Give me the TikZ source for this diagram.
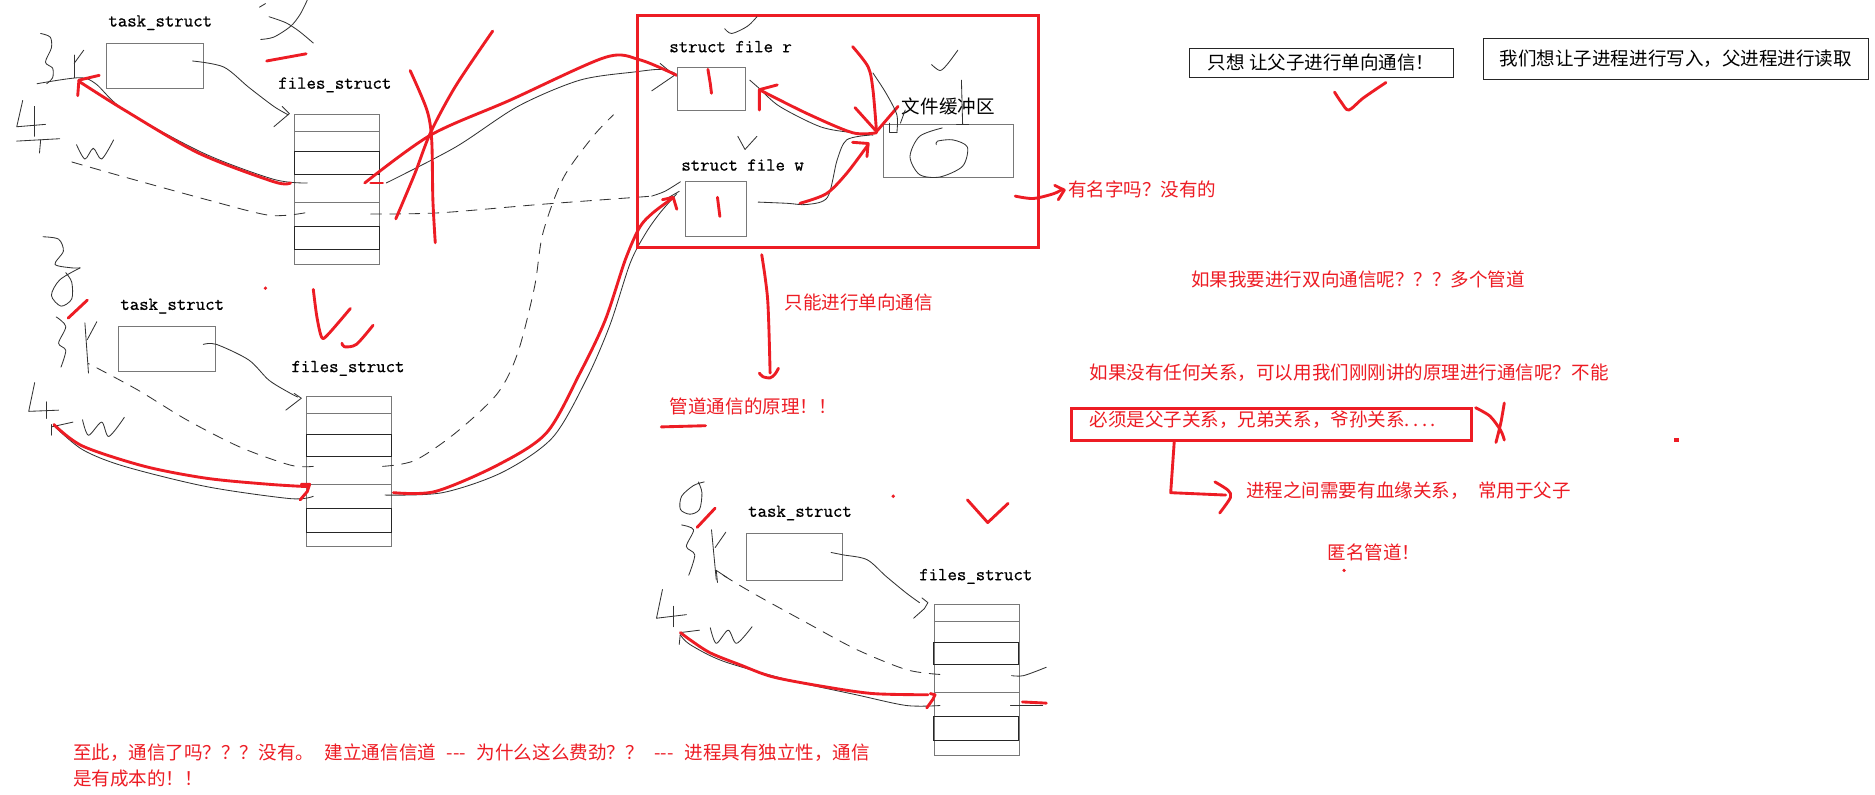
\documentclass[tikz,border=0pt]{standalone}
\usepackage{fontspec}
\newfontfamily\cjk{Noto Sans CJK SC}
\newfontfamily\monob[FakeBold=0.8]{Latin Modern Mono}
\definecolor{pred}{RGB}{237,28,36}
\definecolor{boxgray}{RGB}{120,120,120}
\tikzset{
  box/.style={draw=boxgray, line width=0.8pt, inner sep=0pt, anchor=north west},
  darkrow/.style={draw=black!85, line width=0.8pt},
  rowline/.style={draw=boxgray, line width=0.8pt},
  hand/.style={draw=black!80, line width=0.7pt, line cap=round, line join=round},
  handdash/.style={hand, dash pattern=on 9pt off 7pt},
  redpen/.style={draw=pred, line width=2.4pt, line cap=round, line join=round},
  redbox/.style={draw=pred, line width=2.6pt, inner sep=0pt, anchor=north west},
  lbl/.style={font=\monob\fontsize{15.3}{17}\selectfont, inner sep=0pt},
  cn/.style={font=\cjk\fontsize{15.5}{18}\selectfont, inner sep=0pt},
  cnred/.style={cn, text=pred},
}
\newcommand\filesbox[3]{%
  \node[box, minimum width=71pt, minimum height=126pt] (#1) at (#2,#3) {};
  \foreach \o in {15,74,114} \draw[rowline] (#2,#3+\o) -- (#2+71,#3+\o);
  \draw[darkrow] (#2,#3+32) rectangle (#2+71,#3+51);
  \draw[darkrow] (#2,#3+94) rectangle (#2+71,#3+114);
}
\begin{document}
\begin{tikzpicture}[x=1pt,y=-1pt]
\useasboundingbox (0,0) rectangle (1568,664);
\fill[white] (0,0) rectangle (1568,664);

% ================= group 1 (parent) =================
\node[lbl] (ts1) at (134,19) {task\_struct};
\node[box, minimum width=81pt, minimum height=38pt] (tb1) at (89,36) {};
\node[lbl] (fl1) at (280,71) {files\_struct};
\filesbox{fb1}{246}{95}
% handwriting 父
\draw[hand] (217,6) -- (222,3);
\draw[hand] plot[smooth] coordinates {(225,14) (239,19) (250,26) (262,36)};
\draw[hand] plot[smooth] coordinates {(257,0) (251,12) (243,22) (229,31) (218,33)};
\draw[redpen] (223,51) -- (256,45);
% 3 r
\draw[hand] plot[smooth] coordinates {(34,28) (42,31) (43,40) (38,52) (44,57) (44,65) (39,70)};
\draw[hand] (62,46) -- (62,65);
\draw[hand] (62,53) -- (70,42);
% 4 <- w
\draw[hand] (19,84) -- (14,106) -- (38,104);
\draw[hand] (29,89) -- (29,114);
\draw[hand] (14,118) -- (50,116);
\draw[hand] (34,117) -- (33,128);
\draw[hand] plot[smooth] coordinates {(64,121) (71,133) (78,124) (85,133) (95,117)};
% task -> files
\draw[hand] plot[smooth] coordinates {(161,51) (187,56) (208,73) (229,89) (241,96)};
\draw[hand] (236,89) -- (242,95) -- (229,106);
% to "3 r"
\draw[hand] plot[smooth] coordinates {(257,153) (229,150) (170,128) (104,92) (80,70) (66,65) (31,70)};
\draw[redpen] plot[smooth] coordinates {(243,153) (229,152) (166,128) (104,92) (66,68)};
\draw[redpen] (83,63) -- (66,67) -- (65,80);
% to "4 w"
\draw[handdash] plot[smooth] coordinates {(255,178) (225,180) (173,167) (104,148) (55,134)};
% to struct file r
\draw[hand] plot[smooth] coordinates {(323,153) (381,123) (433,89) (485,67) (532,60) (553,58) (564,61)};
\draw[hand] (552,53) -- (564,63) -- (545,76);
\draw[redpen] plot[smooth] coordinates {(305,153) (360,113) (426,84) (506,48) (535,50) (566,63)};
\draw[redpen] (310,153) -- (320,153);
% to struct file w (dashed)
\draw[handdash] plot[smooth] coordinates {(310,179) (367,178) (451,171) (532,165) (545,164)};
\draw[hand] plot[smooth] coordinates {(545,164) (556,160) (569,152)};
\draw[hand] (556,167) -- (568,160);
% big red X
\draw[redpen] plot[smooth] coordinates {(343,59) (357,92) (361,117) (362,167) (364,203)};
\draw[redpen] plot[smooth] coordinates {(412,26) (381,72) (360,111) (347,145) (331,183)};

% ================= group 2 (child) =================
\node[lbl] (ts2) at (144,256) {task\_struct};
\node[box, minimum width=81pt, minimum height=37pt] (tb2) at (99,273) {};
\node[lbl] (fl2) at (291,308) {files\_struct};
\filesbox{fb2}{256}{331}
% handwriting 子
\draw[hand] plot[smooth] coordinates {(36,198) (49,200) (53,210) (46,221) (60,224) (67,224)};
\draw[hand] plot[smooth] coordinates {(67,224) (50,234) (43,247) (51,256) (60,250) (60,236) (55,228)};
\draw[redpen] (73,251) -- (57,266);
% 3 r
\draw[hand] plot[smooth] coordinates {(47,265) (55,273) (49,287) (55,293) (51,307)};
\draw[hand] (71,270) -- (74,312);
\draw[hand] (73,284) -- (81,269);
% 4 <- w
\draw[hand] (29,320) -- (24,344) -- (49,343);
\draw[hand] (39,336) -- (39,350);
\draw[hand] (43,357) -- (61,353);
\draw[hand] (43,355) -- (43,364);
\draw[hand] plot[smooth] coordinates {(69,351) (74,364) (85,353) (91,365) (104,349)};
% task -> files
\draw[hand] plot[smooth] coordinates {(170,288) (181,288) (208,301) (225,318) (243,329) (249,332)};
\draw[hand] (246,329) -- (252,333) -- (239,343);
% red checks
\draw[redpen] plot[smooth] coordinates {(262,242) (265,265) (269,282) (274,280) (293,258)};
\draw[redpen] plot[smooth] coordinates {(312,272) (298,288) (288,290) (286,287)};
\fill[pred] (222,241) circle (1.5);
% to "4 w"
\draw[hand] plot[smooth] coordinates {(262,415) (243,417) (173,407) (104,390) (69,376) (45,356)};
\draw[redpen] plot[smooth] coordinates {(258,407) (225,405) (173,400) (121,390) (69,373) (45,355)};
\draw[redpen] (252,405) -- (259,405) -- (257,411) -- (251,418);
% dashed to "3 r"
\draw[handdash] plot[smooth] coordinates {(262,390) (243,389) (201,374) (156,351) (115,326) (74,304)};
% dashed up to kernel
\draw[handdash] plot[smooth] coordinates {(320,390) (347,385) (381,362) (416,329) (433,295) (447,240) (454,195) (471,149) (496,114) (513,96)};
% to struct file w
\draw[hand] plot[smooth] coordinates {(322,414) (370,412) (420,395) (462,366) (490,318) (510,272) (527,220) (540,195) (552,178) (566,162)};
\draw[redpen] plot[smooth] coordinates {(329,412) (364,411) (416,389) (457,362) (485,312) (506,268) (523,217) (535,190) (546,178) (562,166)};
\draw[redpen] (554,167) -- (563,165) -- (566,175);

% ================= kernel box =================
\node[redbox, minimum width=335pt, minimum height=194pt] (kern) at (532,12) {};
\node[lbl] (sfr) at (611,39) {struct file r};
\node[box, minimum width=57pt, minimum height=36pt] (rbox) at (566,56) {};
\node[lbl] (sfw) at (621,138) {struct file w};
\node[box, minimum width=51pt, minimum height=46pt] (wbox) at (573,151) {};
\node[cn] (bufl) at (793,89) {文件缓冲区};
\node[box, minimum width=109pt, minimum height=44pt] (buf) at (738,104) {};
\draw[redpen] (592,58) -- (594,70) -- (595,78);
\draw[redpen] (600,165) -- (601,173) -- (602,181);
% checks
\draw[hand] plot[smooth] coordinates {(606,24) (612,28) (625,22) (633,14)};
\draw[hand] plot[smooth] coordinates {(779,54) (786,59) (792,54) (801,42)};
\draw[hand] (617,114) -- (623,125) -- (633,114);
% r <-> buffer
\draw[hand] plot[smooth] coordinates {(627,67) (635,74) (652,89) (686,106) (713,111) (730,113)};
\draw[redpen] plot[smooth] coordinates {(733,111) (713,111) (675,95) (635,75)};
\draw[redpen] (650,71) -- (635,75) -- (635,92);
% down arrow to buffer
\draw[redpen] plot[smooth] coordinates {(713,39) (726,56) (730,75) (733,110)};
\draw[redpen] (715,90) -- (733,110) -- (751,89);
% w -> buffer
\draw[hand] plot[smooth] coordinates {(634,169) (658,170) (675,171) (692,165) (700,134) (708,117) (727,113)};
\draw[redpen] plot[smooth] coordinates {(669,170) (691,162) (708,145) (726,121)};
\draw[redpen] (713,119) -- (726,120) -- (725,131);
% scribbles near buffer
\draw[hand] plot[smooth] coordinates {(730,61) (741,78) (750,96) (750,111)};
\draw[hand] (750,111) -- (744,111) -- (744,103);
\draw[hand] (753,103) -- (757,92);
\draw[hand] (804,67) -- (805,104);
\draw[hand] (800,104) -- (810,104);
\draw[hand] plot[smooth] coordinates {(788,107) (769,114) (761,131) (769,146) (786,148) (805,139) (809,123) (797,117) (784,118) (783,121)};
% out arrow
\draw[redpen] plot[smooth] coordinates {(849,164) (864,166) (881,162) (889,158)};
\draw[redpen] (882,155) -- (890,159) -- (885,167);
\node[cnred, anchor=west] (noname) at (893,158) {有名字吗？没有的};
% down arrow
\draw[redpen] plot[smooth] coordinates {(637,213) (642,251) (644,312)};
\draw[redpen] plot[smooth] coordinates {(635,312) (638,315) (644,316) (648,313) (651,308)};
\node[cnred, anchor=west] (oneway) at (656,253) {只能进行单向通信};
\node[cnred, anchor=west] (principle) at (560,340) {管道通信的原理！！};
\draw[redpen] (553,357) -- (590,356);

% ================= group 3 =================
\node[lbl] (ts3) at (669,429) {task\_struct};
\node[box, minimum width=80pt, minimum height=39pt] (tb3) at (624,446) {};
\node[lbl] (fl3) at (816,482) {files\_struct};
\filesbox{fb3}{781}{505}
% handwriting 子
\draw[hand] plot[smooth] coordinates {(589,403) (580,406) (570,415) (569,426) (577,430) (585,426) (587,412) (584,403)};
\draw[hand] plot[smooth] coordinates {(570,439) (580,443) (574,457) (581,464) (576,481)};
\draw[redpen] (583,441) -- (598,425);
\draw[hand] (595,443) -- (599,485);
\draw[hand] (598,458) -- (607,445);
\draw[hand] (554,493) -- (549,517) -- (574,514);
\draw[hand] (563,507) -- (563,524);
\draw[hand] (569,529) -- (585,527);
\draw[hand] (569,529) -- (568,539);
\draw[hand] plot[smooth] coordinates {(594,525) (599,538) (609,527) (616,538) (629,524)};
% task -> files
\draw[hand] plot[smooth] coordinates {(695,462) (705,464) (725,468) (741,482) (758,496) (769,504)};
\draw[hand] (771,500) -- (776,504) -- (773,509) -- (764,517);
% dashed
\draw[handdash] plot[smooth] coordinates {(786,564) (758,560) (716,543) (675,521) (635,499) (616,488) (600,478)};
\draw[hand] (599,477) -- (608,483);
\draw[hand] (599,477) -- (600,487);
% red to 4 w
\draw[hand] plot[smooth] coordinates {(786,590) (758,590) (716,581) (661,569) (605,553) (577,539) (569,531)};
\draw[redpen] plot[smooth] coordinates {(776,581) (730,580) (688,574) (646,566) (619,556) (594,546) (577,535) (569,529)};
\draw[redpen] (778,580) -- (782,581) -- (780,585) -- (775,592);
% right stubs
\draw[hand] plot[smooth] coordinates {(846,565) (856,565) (875,558)};
\draw[hand] (845,590) -- (872,590);
\draw[redpen] (855,587) -- (875,588);
\draw[redpen] (809,418) -- (826,437) -- (843,421);
\fill[pred] (747,415) circle (1.5);

% ================= right side notes =================
\node[box, draw=black!85, minimum width=221pt, minimum height=24pt] (note1) at (994,40) {};
\node[cn] (note1t) at (note1.center) {只想 让父子进行单向通信！};
\draw[redpen] plot[smooth] coordinates {(1116,77) (1122,86) (1128,92) (1140,82) (1159,69)};
\node[box, draw=black!85, minimum width=322pt, minimum height=34pt] (note2) at (1240,32) {};
\node[cn] (note2t) at (note2.center) {我们想让子进程进行写入，父进程进行读取};

\node[cnred, anchor=west] (q1) at (996,234) {如果我要进行双向通信呢？？？多个管道};
\node[cnred, anchor=west] (q2) at (911,312) {如果没有任何关系，可以用我们刚刚讲的原理进行通信呢？不能};
\node[redbox, minimum width=334pt, minimum height=27pt] (must) at (895,340) {};
\node[cnred, anchor=west] (mustt) at (911,351) {必须是父子关系，兄弟关系，爷孙关系.\hspace{3pt}.\hspace{3pt}.\hspace{3pt}.};
\draw[redpen] plot[smooth] coordinates {(1234,341) (1246,348) (1255,360) (1258,368)};
\draw[redpen] plot[smooth] coordinates {(1258,337) (1255,354) (1251,370)};
\fill[pred] (1400,366) rectangle (1404,370);
\draw[redpen] (982,369) -- (979,412) -- (1025,414);
\draw[redpen] plot[smooth] coordinates {(1016,403) (1027,410) (1029,416) (1020,429)};
\node[cnred, anchor=west] (blood) at (1042,410) {进程之间需要有血缘关系，\hspace{8pt}常用于父子};
\node[cnred, anchor=west] (anon) at (1110,462) {匿名管道！};
\fill[pred] (1124,477) circle (1.5);

% ================= bottom text =================
\node[cnred, anchor=west] (bot1) at (61,629) {至此，通信了吗？？？没有。\hspace{9pt}建立通信信道\hspace{9pt}{-}{-}{-}\hspace{9pt}为什么这么费劲？？\hspace{9pt}{-}{-}{-}\hspace{9pt}进程具有独立性，通信};
\node[cnred, anchor=west] (bot2) at (61,651) {是有成本的！！};
\end{tikzpicture}
\end{document}
